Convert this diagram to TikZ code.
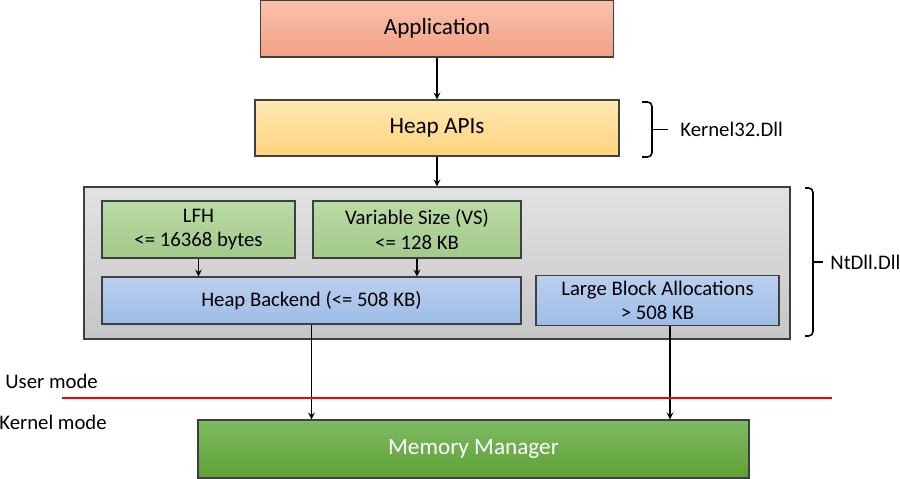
\documentclass[tikz,border=0pt]{standalone}
\usepackage{fontspec}
\setmainfont{Carlito}
\usetikzlibrary{arrows}
\definecolor{apptop}{HTML}{F8C2AD}
\definecolor{appbot}{HTML}{F3A083}
\definecolor{apitop}{HTML}{FFE9B3}
\definecolor{apibot}{HTML}{FFD27C}
\definecolor{grntop}{HTML}{BADAA5}
\definecolor{grnbot}{HTML}{A3C98A}
\definecolor{blutop}{HTML}{BCCFEE}
\definecolor{blubot}{HTML}{9DBDE7}
\definecolor{grytop}{HTML}{E2E2E2}
\definecolor{grybot}{HTML}{C6C6C6}
\definecolor{mmtop}{HTML}{80BA62}
\definecolor{mmbot}{HTML}{5CA136}
\definecolor{edge}{HTML}{3F3F3F}
\tikzstyle{layer} = [rectangle, draw=edge, line width=0.6pt, text centered, font=\fontsize{13.2}{16}\selectfont]
\tikzstyle{inner} = [rectangle, draw=edge, line width=0.6pt, text centered, align=center, font=\fontsize{11.8}{14}\selectfont]
\tikzstyle{lbl} = [inner sep=0pt, anchor=west, font=\fontsize{11.8}{14}\selectfont]
\tikzstyle{arrow} = [line width=0.75pt,->,>=stealth]
\tikzstyle{bracket} = [line width=0.9pt, rounded corners=2.5pt]

\begin{document}
\begin{tikzpicture}[node distance=2cm]
\useasboundingbox (0,0) rectangle (18,9.58);

%% NODES

\node (app) [layer, minimum width=7.06cm, minimum height=1.14cm, top color=apptop, bottom color=appbot] at (8.74,9.01) {Application};
\node (api) [layer, below of=app, node distance=1.99cm, minimum width=7.28cm, minimum height=1.12cm, top color=apitop, bottom color=apibot] {Heap APIs};
\node (ntdll) [layer, below of=api, node distance=2.70cm, minimum width=14.12cm, minimum height=3.04cm, top color=grytop, bottom color=grybot] {};
\node (lfh) [inner, minimum width=3.86cm, minimum height=1.14cm, top color=grntop, bottom color=grnbot] at (3.97,4.99) {LFH\\<= 16368 bytes};
\node (vs) [inner, minimum width=4.16cm, minimum height=1.14cm, top color=grntop, bottom color=grnbot] at (8.34,4.99) {Variable Size (VS)\\<= 128 KB};
\node (backend) [inner, minimum width=8.38cm, minimum height=0.94cm, top color=blutop, bottom color=blubot] at (6.23,3.57) {Heap Backend (<= 508 KB)};
\node (large) [inner, minimum width=4.86cm, minimum height=0.94cm, top color=blutop, bottom color=blubot] at (13.15,3.57) {Large Block Allocations\\> 508 KB};
\node (mm) [layer, minimum width=11.02cm, minimum height=1.16cm, top color=mmtop, bottom color=mmbot, text=white] at (9.47,0.6) {Memory Manager};

\node (user_label) [lbl] at (0.1,1.96) {User mode};
\node (kernel_label) [lbl] at (-0.02,1.14) {Kernel mode};
\node (k32_label) [lbl] at (13.6,6.99) {Kernel32.Dll};
\node (nt_label) [lbl] at (16.6,4.34) {NtDll.Dll};

\coordinate (mode_l) at (1.24,1.62);
\coordinate (mode_r) at (16.64,1.62);

%% ARROWS

\draw [arrow] (app) -- (api);
\draw [arrow] (api) -- (ntdll);
\draw [arrow] (lfh.south) -- (lfh.south |- backend.north);
\draw [arrow] (vs.south) -- (vs.south |- backend.north);
\draw [arrow] (backend.south) -- (backend.south |- mm.north);
\draw [arrow] ([xshift=0.25cm]large.south) -- ([xshift=0.25cm]large.south |- mm.north);

%% MODE LINE
\draw [red, line width=1.7pt] (mode_l) -- (mode_r);

%% BRACKETS
\draw [bracket] (12.84,7.54) -- (13.04,7.54) -- (13.04,6.44) -- (12.84,6.44);
\draw [line width=0.9pt] (13.04,6.99) -- ([xshift=-0.24cm]k32_label.west);
\draw [bracket] (16.10,5.82) -- (16.26,5.82) -- (16.26,2.86) -- (16.10,2.86);
\draw [line width=0.9pt] (16.26,4.34) -- ([xshift=-0.14cm]nt_label.west);

\end{tikzpicture}
\end{document}
